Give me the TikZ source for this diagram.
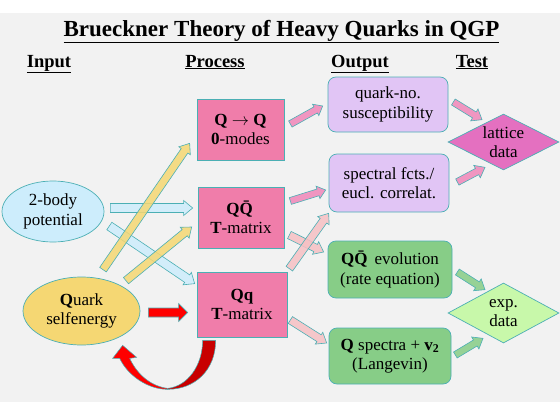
\documentclass[tikz,border=0pt]{standalone}
\usepackage{fontspec}
\setmainfont{Liberation Serif}
\usetikzlibrary{calc,shapes.geometric}

\definecolor{rim}{RGB}{75,175,180}
\definecolor{procpink}{RGB}{240,125,170}
\definecolor{lilac}{RGB}{225,197,245}
\definecolor{leaf}{RGB}{135,205,135}
\definecolor{palegreen}{RGB}{200,248,170}
\definecolor{latpink}{RGB}{228,112,192}
\definecolor{skyblue}{RGB}{205,237,252}
\definecolor{butter}{RGB}{245,215,115}
\definecolor{arrpink}{RGB}{240,135,185}
\definecolor{rosy}{RGB}{246,192,195}
\definecolor{darkred}{RGB}{200,0,0}

\tikzset{
  box/.style={draw=rim, line width=0.7pt, inner sep=0pt},
  head/.style={font=\fontsize{18.5}{22}\selectfont\bfseries, anchor=base},
  fat/.style={draw=rim, line width=0.6pt, fill opacity=0.85},
}

% fat block arrow: style, shaft half width, head half width, head length, from, to
\newcommand{\fatarrow}[6]{%
  \coordinate (fa-s) at (#5);
  \coordinate (fa-e) at (#6);
  \coordinate (fa-m) at ($(fa-e)!#4!(fa-s)$);
  \draw[fat,#1] ($(fa-s)!#2!90:(fa-e)$) -- ($(fa-m)!#2!-90:(fa-s)$)
    -- ($(fa-m)!#3!-90:(fa-s)$) -- (fa-e) -- ($(fa-m)!#3!90:(fa-s)$)
    -- ($(fa-m)!#2!90:(fa-s)$) -- ($(fa-s)!#2!-90:(fa-e)$) -- cycle;}

\begin{document}
\begin{tikzpicture}[x=1pt,y=-1pt,
  every node/.style={font=\fontsize{17}{19.5}\selectfont, align=center}]
\useasboundingbox (0,0) rectangle (560,415);
\fill[white] (0,0) rectangle (560,415);
\fill[black!5] (0,12.5) rectangle (560,402);

% title and column heads
\node[font=\fontsize{23}{26}\selectfont\bfseries, anchor=base] (title) at (281.5,36)
  {\underline{Brueckner Theory of Heavy Quarks in QGP}};
\node[head] (hin) at (49,67) {\underline{Input}};
\node[head] (hproc) at (215,67) {\underline{Process}};
\node[head] (hout) at (360,67) {\underline{Output}};
\node[head] (htest) at (472,67) {\underline{Test}};

% input
\node[box, ellipse, fill=skyblue, minimum width=102, minimum height=61] (pot) at (53,211.5) {2-body\\potential};
\node[box, ellipse, fill=butter, minimum width=117, minimum height=68] (self) at (81.5,311) {\textbf{Q}uark\\selfenergy};

% process
\node[box, fill=procpink, minimum width=87, minimum height=61] (zero) at (240.5,129.5) {\textbf{Q $\rightarrow$ Q}\\\textbf{0}-modes};
\node[box, fill=procpink, minimum width=86, minimum height=61] (qqbar) at (241,217.5) {\textbf{Q\=Q}\\\textbf{T}-matrix};
\node[box, fill=procpink, minimum width=90, minimum height=65] (qq) at (242,304.5) {\textbf{Qq}\\\textbf{T}-matrix};

% output
\node[box, rounded corners=8, fill=lilac, minimum width=120, minimum height=55] (chi) at (388,104.5) {quark-no.\\susceptibility};
\node[box, rounded corners=8, fill=lilac, minimum width=120, minimum height=58] (spec) at (389,183) {spectral fcts./\\eucl. correlat.};
\node[box, rounded corners=8, fill=leaf, minimum width=124, minimum height=57] (evol) at (390,269.5) {\textbf{Q\=Q} evolution\\(rate equation)};
\node[box, rounded corners=8, fill=leaf, minimum width=122, minimum height=56] (lang) at (390,356) {\textbf{Q} spectra + \textbf{v\textsubscript{2}}\\(Langevin)};

% test
\node[box, diamond, aspect=2, fill=latpink, minimum width=111, minimum height=56] (lat) at (503.5,142) {lattice\\data};
\node[box, diamond, aspect=2, fill=palegreen, minimum width=111, minimum height=60] (exp) at (503.5,313) {exp.\\data};

% input -> process
\fatarrow{fill=skyblue}{4.5pt}{7.5pt}{9pt}{$(pot.east)+(6,-3.5)$}{$(qqbar.west)+(-5,-9.5)$}
\fatarrow{fill=skyblue}{4.5pt}{7.5pt}{9pt}{$(pot.east)+(5,14.5)$}{$(qq.north west)+(-2,12)$}
\fatarrow{fill=butter}{4pt}{7pt}{9pt}{$(self.north)+(21.5,-7)$}{$(zero.south west)+(-7,-17)$}
\fatarrow{fill=butter}{4pt}{7pt}{9pt}{$(self.north)+(44.5,4)$}{$(qqbar.west)+(-6,9.5)$}
\fatarrow{fill=red, fill opacity=1}{4.5pt}{9pt}{9pt}{$(self.east)+(8,1.5)$}{$(qq.west)+(-9,8)$}

% loop back from Qq T-matrix to selfenergy
\begin{scope}[shift={(qq.south west)}]
\fill[darkred, draw=rim, line width=0.5pt] (-29,52) .. controls (-2,52) and (19,33) .. (19,3)
  -- (6,3) .. controls (6,28) and (-9,49) .. (-29,51) -- cycle;
\fill[red, draw=rim, line width=0.5pt] (-29,52) .. controls (-49,52) and (-69,38) .. (-77,21)
  -- (-84,21) -- (-74,8) -- (-60,20) -- (-67,21)
  .. controls (-59,38) and (-45,49) .. (-29,51) -- cycle;
\end{scope}

% process -> output
\fatarrow{fill=arrpink}{3.5pt}{6.5pt}{8pt}{$(zero.east)+(6,-5.5)$}{$(chi.west)+(-5,1.5)$}
\fatarrow{fill=arrpink}{3.5pt}{6.5pt}{8pt}{$(qqbar.east)+(6,-16.5)$}{$(spec.west)+(-3,7)$}
\fatarrow{fill=rosy}{4pt}{7pt}{9pt}{$(qqbar.east)+(5,17.5)$}{$(evol.west)+(-4,-17.5)$}
\fatarrow{fill=rosy}{4pt}{7pt}{9pt}{$(qq.north east)+(2,-3)$}{$(spec.south west)+(0,1)$}
\fatarrow{fill=rosy}{4pt}{7pt}{9pt}{$(qq.east)+(3,15.5)$}{$(lang.west)+(-2,-13)$}

% output -> test
\fatarrow{fill=arrpink}{3.5pt}{7pt}{9pt}{$(chi.east)+(5,-2.5)$}{$(lat.north)+(-21.5,6)$}
\fatarrow{fill=arrpink}{3.5pt}{7pt}{9pt}{$(spec.east)+(8,-1)$}{$(lat.south)+(-18.5,-3)$}
\fatarrow{fill=leaf}{3.5pt}{7pt}{9pt}{$(evol.east)+(5,2.5)$}{$(exp.north)+(-18.5,7)$}
\fatarrow{fill=leaf}{3.5pt}{7pt}{9pt}{$(lang.east)+(4,-1)$}{$(exp.south)+(-20.5,-5)$}
\end{tikzpicture}
\end{document}
